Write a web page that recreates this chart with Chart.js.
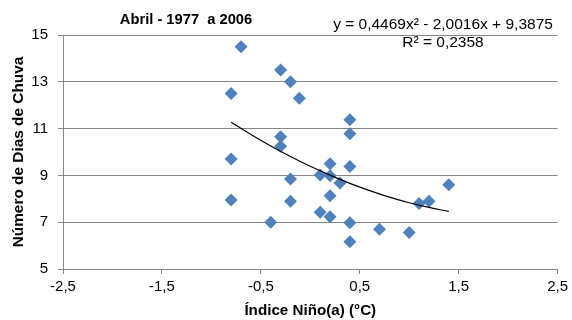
<!DOCTYPE html>
<html>
<head>
<meta charset="utf-8">
<script src="https://cdn.jsdelivr.net/npm/chart.js@4/dist/chart.umd.min.js"></script>
<style>
html,body{margin:0;padding:0;background:#fff;}
#wrap{width:572px;height:320px;position:relative;}
</style>
</head>
<body>
<div id="wrap"><canvas id="c" width="572" height="320"></canvas></div>
<script>
const niñoX = [-0.7, -0.8, -0.3, -0.2, -0.11, -0.3, -0.3, -0.8, -0.2, -0.8, -0.2, -0.4,
  0.2, 0.4, 0.1, 0.2, 0.3, 0.2, 0.1, 0.2, 0.4, 0.4, 0.7, 1.0, 1.1, 1.2, 1.4, 0.4, 0.4];
const diasY = [14.5, 12.5, 13.5, 13.0, 12.3, 10.65, 10.25, 9.7, 8.85, 7.95, 7.9, 7.0,
  9.5, 9.38, 9.02, 8.98, 8.68, 8.13, 7.42, 7.23, 6.98, 6.16, 6.7, 6.56, 7.8, 7.9, 8.6, 11.38, 10.78];
const trendX = [-0.8, -0.6, -0.4, -0.2, 0, 0.2, 0.4, 0.6, 0.8, 1.0, 1.2, 1.4];
const trendY = [11.27, 10.75, 10.26, 9.81, 9.39, 9.01, 8.66, 8.35, 8.07, 7.83, 7.63, 7.46];
const xTicks = ['-2,5', '-1,5', '-0,5', '0,5', '1,5', '2,5'];
const yTicks = ['5', '7', '9', '11', '13', '15'];
const chartTitle = 'Abril - 1977  a 2006';
const eqText = 'y = 0,4469x² - 2,0016x + 9,3875';
const r2Text = 'R² = 0,2358';
const xTitle = 'Índice Niño(a) (°C)';
const yTitle = 'Número de Dias de Chuva';

const FONT = "'Liberation Sans', Arial, sans-serif";

const textPlugin = {
  id: 'texts',
  afterDraw(chart) {
    const ctx = chart.ctx;
    ctx.save();
    ctx.fillStyle = '#000';
    ctx.textBaseline = 'middle';
    ctx.textAlign = 'center';
    ctx.font = 'bold 14.7px ' + FONT;
    ctx.fillText(chartTitle, 186, 20);
    ctx.font = '15.5px ' + FONT;
    ctx.fillText(eqText, 443, 25);
    ctx.fillText(r2Text, 443, 43);
    ctx.restore();
  }
};

new Chart(document.getElementById('c'), {
  type: 'scatter',
  data: {
    datasets: [
      {
        label: 'trend',
        type: 'line',
        data: trendX.map((x, i) => ({x, y: trendY[i]})),
        borderColor: '#000',
        borderWidth: 1.2,
        pointRadius: 0,
        tension: 0.4,
        fill: false,
        order: 0
      },
      {
        label: 'dias',
        data: niñoX.map((x, i) => ({x, y: diasY[i]})),
        pointStyle: 'rectRot',
        pointRadius: 6.5,
        backgroundColor: '#4F81BD',
        borderColor: '#4F81BD',
        borderWidth: 0,
        order: 1
      }
    ]
  },
  options: {
    responsive: false,
    animation: false,
    events: [],
    layout: {padding: {left: 0, right: 13, top: 35, bottom: 0}},
    plugins: {legend: {display: false}, tooltip: {enabled: false}, title: {display: false}},
    scales: {
      x: {
        type: 'linear',
        min: -2.5, max: 2.5,
        afterBuildTicks(scale) {
          scale.ticks = xTicks.map(t => ({value: parseFloat(t.replace(',', '.'))}));
        },
        ticks: {
          callback: (v) => xTicks.find(t => parseFloat(t.replace(',', '.')) === v) || '',
          color: '#000', font: {family: FONT, size: 15}, padding: 4, maxRotation: 0
        },
        grid: {drawOnChartArea: false, drawTicks: true, tickLength: 5, color: '#868686'},
        border: {color: '#868686', width: 1},
        title: {display: true, text: xTitle, color: '#000', font: {family: FONT, size: 15.2, weight: 'bold'}, padding: {top: 5, bottom: 0}},
        afterFit(scale) { scale.height = 51; }
      },
      y: {
        type: 'linear',
        min: 5, max: 15,
        afterBuildTicks(scale) {
          scale.ticks = yTicks.map(t => ({value: parseFloat(t)}));
        },
        ticks: {
          callback: (v) => String(v),
          color: '#000', font: {family: FONT, size: 15}, padding: 10
        },
        grid: {drawTicks: true, tickLength: 5, color: '#868686'},
        border: {color: '#868686', width: 1},
        title: {display: true, text: yTitle, color: '#000', font: {family: FONT, size: 15.4, weight: 'bold'}, padding: {top: 10, bottom: 0}},
        afterFit(scale) { scale.width = 63; }
      }
    }
  },
  plugins: [textPlugin]
});
</script>
</body>
</html>
